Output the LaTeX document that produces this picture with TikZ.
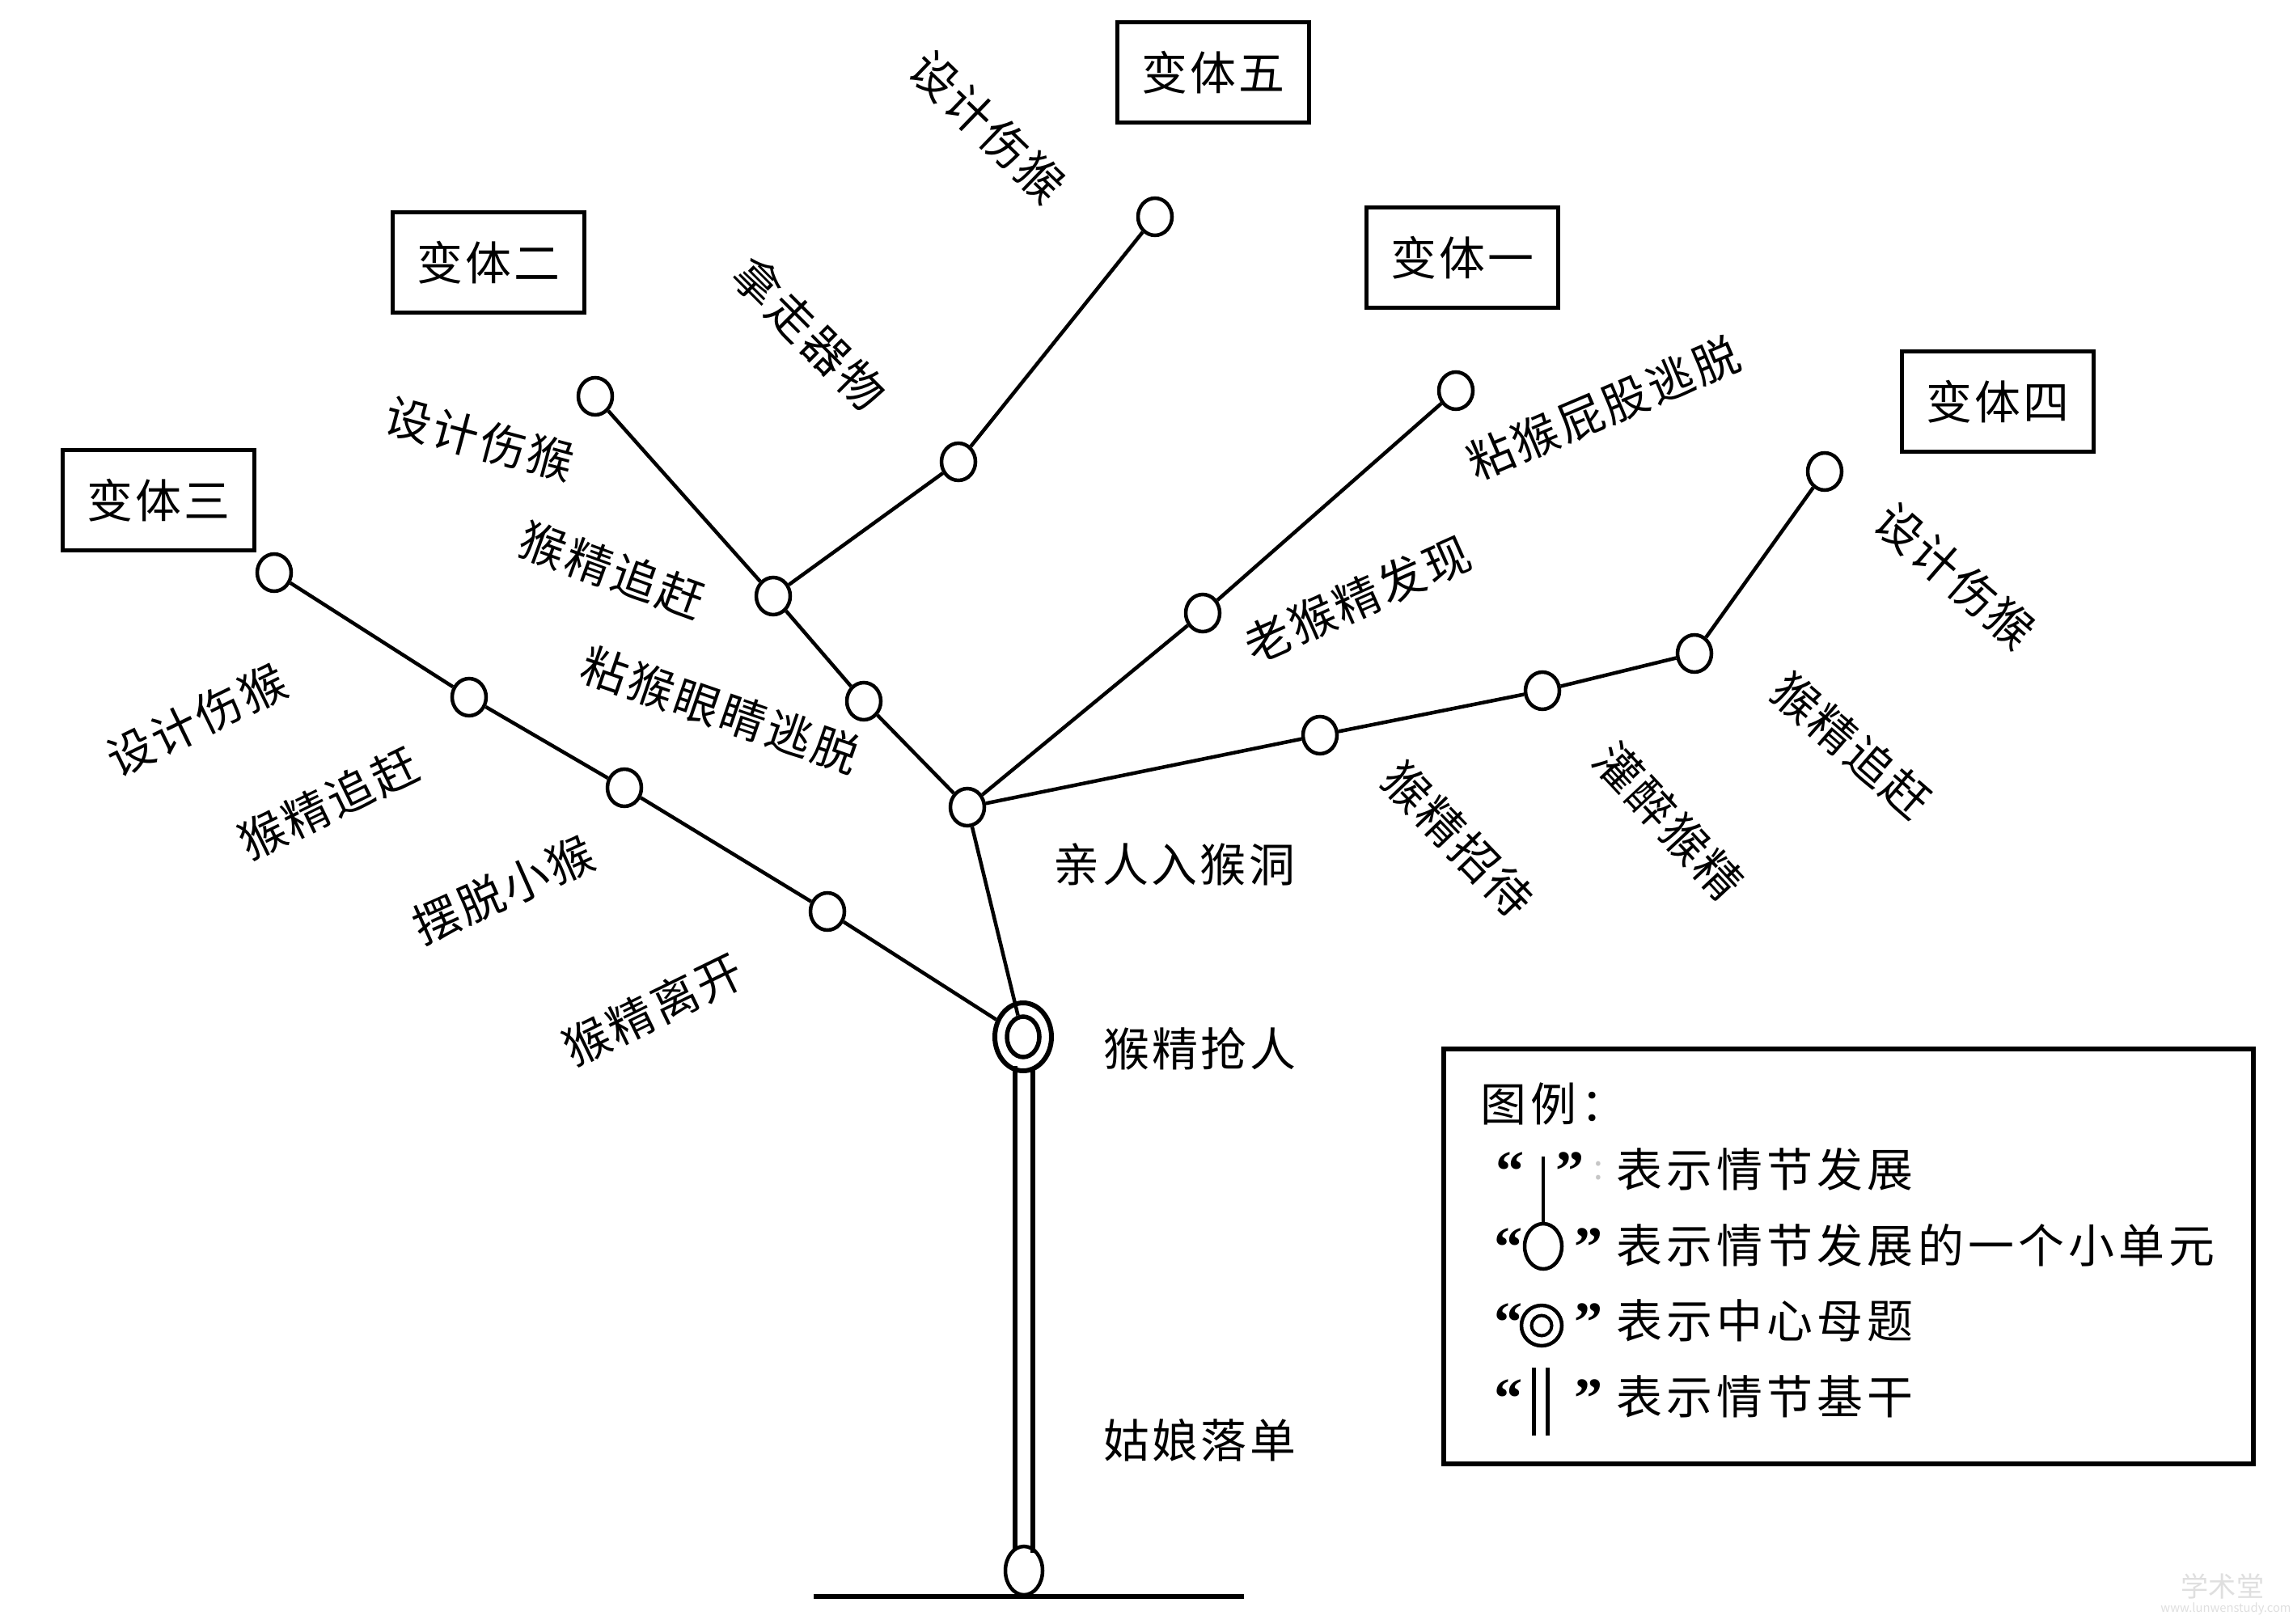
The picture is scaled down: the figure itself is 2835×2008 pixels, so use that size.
\documentclass[tikz,border=0pt]{standalone}
\usepackage{fontspec}
\setmainfont{Noto Sans CJK SC}
\newfontfamily\qfont{Liberation Serif}
\usetikzlibrary{shapes.geometric}
\newcommand\lblfont{\fontsize{16.2pt}{19pt}\selectfont\addfontfeatures{LetterSpace=6}}
\newcommand\lgdfont{\fontsize{16.2pt}{19pt}\selectfont\addfontfeatures{LetterSpace=9}}
\begin{document}
\begin{tikzpicture}[x=0.1mm,y=-0.1mm,
  unit/.style={ellipse, draw, line width=0.45mm, minimum width=4.2mm, minimum height=4.6mm, inner sep=0pt},
  link/.style={line width=0.45mm},
  lbl/.style={font=\lblfont, inner sep=0pt},
  varbox/.style={draw, line width=0.5mm, minimum width=23.7mm, minimum height=12.4mm, font=\lblfont, inner sep=0pt},
  trunkline/.style={line width=0.55mm},
  lgdtext/.style={font=\lgdfont, inner sep=0pt, anchor=west},
  qt/.style={font=\qfont\bfseries\fontsize{20pt}{22pt}\selectfont, inner sep=0pt, anchor=north}]
\fill[white] (0,0) rectangle (2835,2008);
\useasboundingbox (0,0) rectangle (2835,2008);

% units
\node[unit] (hub) at (1196,998) {};
\node[unit] (a1) at (1068,867) {};
\node[unit] (a2) at (956,737) {};
\node[unit] (a3) at (736,490) {};
\node[unit] (b1) at (1185,571) {};
\node[unit] (b2) at (1428,268) {};
\node[unit] (c1) at (1487,758) {};
\node[unit] (c2) at (1800,483) {};
\node[unit] (d1) at (1632,909) {};
\node[unit] (d2) at (1907,854) {};
\node[unit] (d3) at (2095,808) {};
\node[unit] (d4) at (2256,583) {};
\node[unit] (e1) at (1023,1127) {};
\node[unit] (e2) at (772,974) {};
\node[unit] (e3) at (580,862) {};
\node[unit] (e4) at (339,708) {};
\node[ellipse, draw, line width=0.6mm, minimum width=7mm, minimum height=8.4mm, inner sep=0pt] (dc) at (1265,1282) {};
\node[ellipse, draw, line width=0.55mm, minimum width=4mm, minimum height=5mm, inner sep=0pt] (dci) at (1265,1282) {};
\node[ellipse, draw, line width=0.45mm, minimum width=4.6mm, minimum height=6mm, inner sep=0pt] (root) at (1266,1942) {};

% links
\draw[link] (hub) -- (a1) -- (a2) -- (a3);
\draw[link] (a2) -- (b1) -- (b2);
\draw[link] (hub) -- (c1) -- (c2);
\draw[link] (hub) -- (d1) -- (d2) -- (d3) -- (d4);
\draw[link] (dc) -- (e1) -- (e2) -- (e3) -- (e4);
\draw[link] (hub) -- (dci);

% trunk
\coordinate (tl1) at (1255,1318);
\coordinate (tl2) at (1255,1915);
\coordinate (tr1) at (1277,1319);
\coordinate (tr2) at (1277,1920);
\draw[trunkline] (tl1) -- (tl2);
\draw[trunkline] (tr1) -- (tr2);
\coordinate (g1) at (1006,1974);
\coordinate (g2) at (1538,1974);
\draw[line width=0.6mm] (g1) -- (g2);

% variant boxes
\node[varbox] (v5) at (1500,90) {变体五};
\node[varbox] (v2) at (604,325) {变体二};
\node[varbox] (v1) at (1808,319) {变体一};
\node[varbox] (v4) at (2470,497) {变体四};
\node[varbox] (v3) at (196,619) {变体三};

% labels
\node[lbl, rotate=-44] (t5a) at (1221,157) {设计伤猴};
\node[lbl, rotate=-45] (t5b) at (1001,412) {拿走器物};
\node[lbl, rotate=-15] (t2a) at (593,543) {设计伤猴};
\node[lbl, rotate=-20] (t2b) at (757,705) {猴精追赶};
\node[lbl, rotate=-19] (t2c) at (891,878) {粘猴眼睛逃脱};
\node[lbl, rotate=23] (t1a) at (1982,505) {粘猴屁股逃脱};
\node[lbl, rotate=24] (t1b) at (1678,741) {老猴精发现};
\node[lbl, rotate=-41] (t4a) at (2417,712) {设计伤猴};
\node[lbl, rotate=-41] (t4b) at (2289,922) {猴精追赶};
\node[lbl, rotate=-47] (t4c) at (2063,1015) {灌醉猴精};
\node[lbl, rotate=-46] (t4d) at (1803,1038) {猴精招待};
\node[lbl, rotate=26] (t3a) at (243,890) {设计伤猴};
\node[lbl, rotate=26] (t3b) at (406,993) {猴精追赶};
\node[lbl, rotate=24] (t3c) at (622,1100) {摆脱小猴};
\node[lbl, rotate=26] (t3d) at (807,1248) {猴精离开};
\node[lbl] (t0a) at (1452,1069) {亲人入猴洞};
\node[lbl] (t0b) at (1483,1297) {猴精抢人};
\node[lbl] (t0c) at (1483,1781) {姑娘落单};

% legend
\node[draw, line width=0.6mm, minimum width=100.1mm, minimum height=51.3mm, inner sep=0pt] (legend) at (2285,1553) {};
\node[lgdtext] (lt0) at (1830,1365) {图例：};
\node[qt] (q1l) at (1867,1424) {“};
\node[qt] (q1r) at (1941,1424) {”};
\node[inner sep=0pt, text=gray!45, font=\fontsize{12pt}{14pt}\selectfont] (q1c) at (1976,1448) {:};
\node[lgdtext] (lt1) at (1998,1446) {表示情节发展};
\node[qt] (q2l) at (1865,1518) {“};
\node[qt] (q2r) at (1964,1518) {”};
\node[lgdtext] (lt2) at (1998,1540) {表示情节发展的一个小单元};
\node[qt] (q3l) at (1865,1611) {“};
\node[qt] (q3r) at (1964,1611) {”};
\node[lgdtext] (lt3) at (1998,1633) {表示中心母题};
\node[qt] (q4l) at (1865,1705) {“};
\node[qt] (q4r) at (1964,1705) {”};
\node[lgdtext] (lt4) at (1998,1727) {表示情节基干};
% legend symbols
\node[ellipse, draw, line width=0.45mm, minimum width=4.6mm, minimum height=5.6mm, inner sep=0pt] (ls2) at (1908,1541) {};
\coordinate (ls1) at (1908,1430);
\draw[line width=0.35mm] (ls1) -- (ls2);
\node[circle, draw, line width=0.45mm, minimum size=5mm, inner sep=0pt] (ls3o) at (1906,1639) {};
\node[circle, draw, line width=0.4mm, minimum size=2.5mm, inner sep=0pt] (ls3i) at (1906,1639) {};
\coordinate (ls4a) at (1896,1691);
\coordinate (ls4b) at (1896,1775);
\coordinate (ls4c) at (1913,1691);
\coordinate (ls4d) at (1913,1775);
\draw[line width=0.5mm] (ls4a) -- (ls4b);
\draw[line width=0.5mm] (ls4c) -- (ls4d);

% watermark
\node[inner sep=0pt, text=gray!25, font=\fontsize{9.7pt}{11pt}\selectfont] (wm1) at (2748,1961) {学术堂};
\node[inner sep=0pt, text=gray!25, font=\fontsize{4.2pt}{5pt}\selectfont] (wm2) at (2752,1989) {www.lunwenstudy.com};
\end{tikzpicture}
\end{document}
